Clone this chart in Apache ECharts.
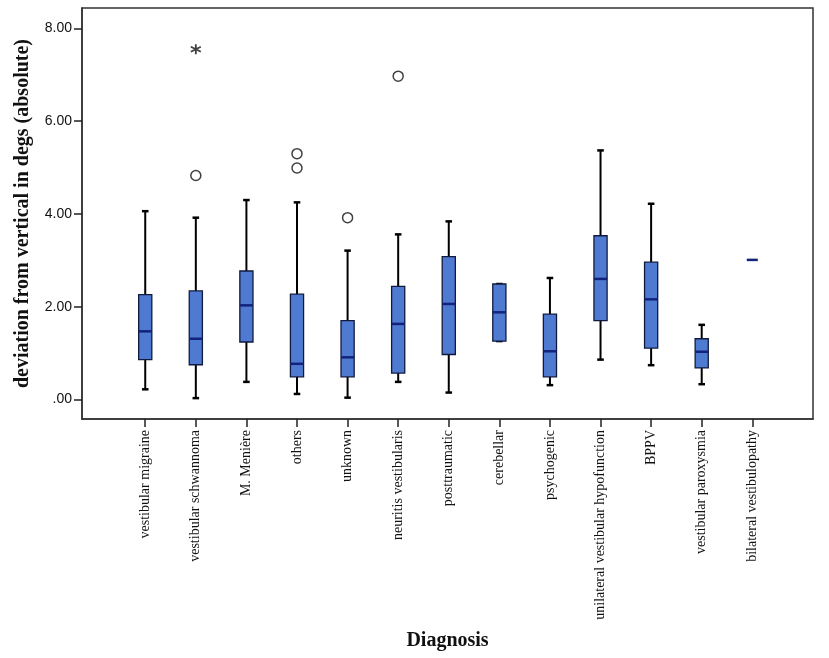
<!DOCTYPE html>
<html>
<head>
<meta charset="utf-8">
<script src="https://cdn.jsdelivr.net/npm/echarts@6/dist/echarts.min.js"></script>
<style>html,body{margin:0;padding:0;background:#fff}#c{width:829px;height:658px}</style>
</head>
<body>
<div id="c"></div>
<script>
const categories = ["vestibular migraine","vestibular schwannoma","M. Menière","others","unknown","neuritis vestibularis","posttraumatic","cerebellar","psychogenic","unilateral vestibular hypofunction","BPPV","vestibular paroxysmia","bilateral vestibulopathy"];
const mins    = [0.22, 0.03, 0.38, 0.12, 0.04, 0.38, 0.15, 1.26, 0.31, 0.86, 0.74, 0.33, 3.01];
const q1s     = [0.86, 0.75, 1.24, 0.49, 0.49, 0.57, 0.97, 1.26, 0.49, 1.70, 1.11, 0.68, 3.01];
const medians = [1.47, 1.31, 2.03, 0.77, 0.91, 1.63, 2.06, 1.88, 1.04, 2.60, 2.16, 1.03, 3.01];
const q3s     = [2.26, 2.34, 2.77, 2.27, 1.70, 2.44, 3.08, 2.49, 1.84, 3.53, 2.96, 1.31, 3.01];
const maxs    = [4.06, 3.92, 4.30, 4.25, 3.21, 3.56, 3.84, 2.49, 2.62, 5.37, 4.22, 1.61, 3.01];
const circleOutliers  = [[1, 4.83], [3, 5.30], [3, 4.99], [4, 3.92], [5, 6.97]];
const extremeOutliers = [[1, 7.55]];
const yTicks = [0, 2, 4, 6, 8];

const boxData = categories.map((c, i) => [i, mins[i], q1s[i], medians[i], q3s[i], maxs[i]]);

const chart = echarts.init(document.getElementById('c'), null, {renderer: 'canvas'});
chart.setOption({
  animation: false,
  backgroundColor: '#fff',
  grid: {left: 82, top: 8, right: 16, bottom: 239, show: true, borderColor: '#333', borderWidth: 1.5, backgroundColor: 'transparent'},
  xAxis: {
    type: 'value', min: -1.25, max: 13.2,
    name: 'Diagnosis', nameLocation: 'middle', nameGap: 212,
    nameTextStyle: {fontFamily: 'Liberation Serif', fontWeight: 'bold', fontSize: 20, color: '#111'},
    axisLine: {show: true, onZero: false, lineStyle: {color: '#333', width: 1.5}},
    splitLine: {show: false},
    axisTick: {show: true, customValues: categories.map((c, i) => i), length: 8, lineStyle: {color: '#222', width: 1.5}},
    axisLabel: {customValues: categories.map((c, i) => i), rotate: 90, margin: 11,
      formatter: v => categories[Math.round(v)] || '',
      fontFamily: 'Liberation Serif', fontSize: 14, color: '#111'}
  },
  yAxis: {
    type: 'value', min: -0.42, max: 8.44,
    name: 'deviation from vertical in degs (absolute)', nameLocation: 'middle', nameGap: 49,
    nameTextStyle: {fontFamily: 'Liberation Serif', fontWeight: 'bold', fontSize: 20, color: '#111'},
    axisLine: {show: true, onZero: false, lineStyle: {color: '#333', width: 1.5}},
    splitLine: {show: false},
    axisTick: {show: true, customValues: yTicks, length: 8, lineStyle: {color: '#222', width: 1.5}},
    axisLabel: {customValues: yTicks, margin: 10,
      formatter: v => v === 0 ? '.00' : v.toFixed(2),
      fontFamily: 'Liberation Sans', fontSize: 14, color: '#111'}
  },
  series: [
    {
      type: 'custom',
      data: boxData,
      encode: {x: 0, y: [1, 2, 3, 4, 5]},
      renderItem: function (params, api) {
        const i = api.value(0);
        const band = api.size([1, 0])[0];
        const bw = band * 0.26;
        const cw = band * 0.13;
        const pMin = api.coord([i, api.value(1)]);
        const pQ1 = api.coord([i, api.value(2)]);
        const pMed = api.coord([i, api.value(3)]);
        const pQ3 = api.coord([i, api.value(4)]);
        const pMax = api.coord([i, api.value(5)]);
        const x = pMed[0];
        const children = [];
        const wStyle = {stroke: '#000', lineWidth: 2, fill: null};
        if (pMax[1] < pQ3[1]) {
          children.push({type: 'line', shape: {x1: x, y1: pMax[1], x2: x, y2: pQ3[1]}, style: wStyle});
        }
        if (pMin[1] > pQ1[1]) {
          children.push({type: 'line', shape: {x1: x, y1: pQ1[1], x2: x, y2: pMin[1]}, style: wStyle});
        }
        if (pMax[1] !== pMin[1]) {
          children.push({type: 'line', shape: {x1: x - cw / 2, y1: pMax[1], x2: x + cw / 2, y2: pMax[1]}, style: {stroke: '#000', lineWidth: 2.5}});
          children.push({type: 'line', shape: {x1: x - cw / 2, y1: pMin[1], x2: x + cw / 2, y2: pMin[1]}, style: {stroke: '#000', lineWidth: 2.5}});
        }
        if (pQ1[1] !== pQ3[1]) {
          children.push({type: 'rect', shape: {x: x - bw / 2, y: pQ3[1], width: bw, height: pQ1[1] - pQ3[1]},
            style: {fill: '#4f7ad2', stroke: '#111a3d', lineWidth: 1.3}});
          children.push({type: 'line', shape: {x1: x - bw / 2, y1: pMed[1], x2: x + bw / 2, y2: pMed[1]}, style: {stroke: '#14237a', lineWidth: 2.5}});
        } else {
          children.push({type: 'line', shape: {x1: x - bw * 0.42, y1: pMed[1], x2: x + bw * 0.42, y2: pMed[1]}, style: {stroke: '#14237a', lineWidth: 2.5}});
        }
        return {type: 'group', children: children};
      },
      z: 2
    },
    {
      type: 'scatter',
      data: circleOutliers,
      symbol: 'circle',
      symbolSize: 10,
      itemStyle: {color: '#fff', borderColor: '#111', borderWidth: 1.5},
      z: 3
    },
    {
      type: 'scatter',
      data: extremeOutliers,
      symbol: 'path://M0,-5L0,5M-4.33,-2.5L4.33,2.5M-4.33,2.5L4.33,-2.5',
      symbolSize: 10,
      itemStyle: {color: 'none', borderColor: '#111', borderWidth: 1.8},
      z: 3
    }
  ]
});
</script>
</body>
</html>
